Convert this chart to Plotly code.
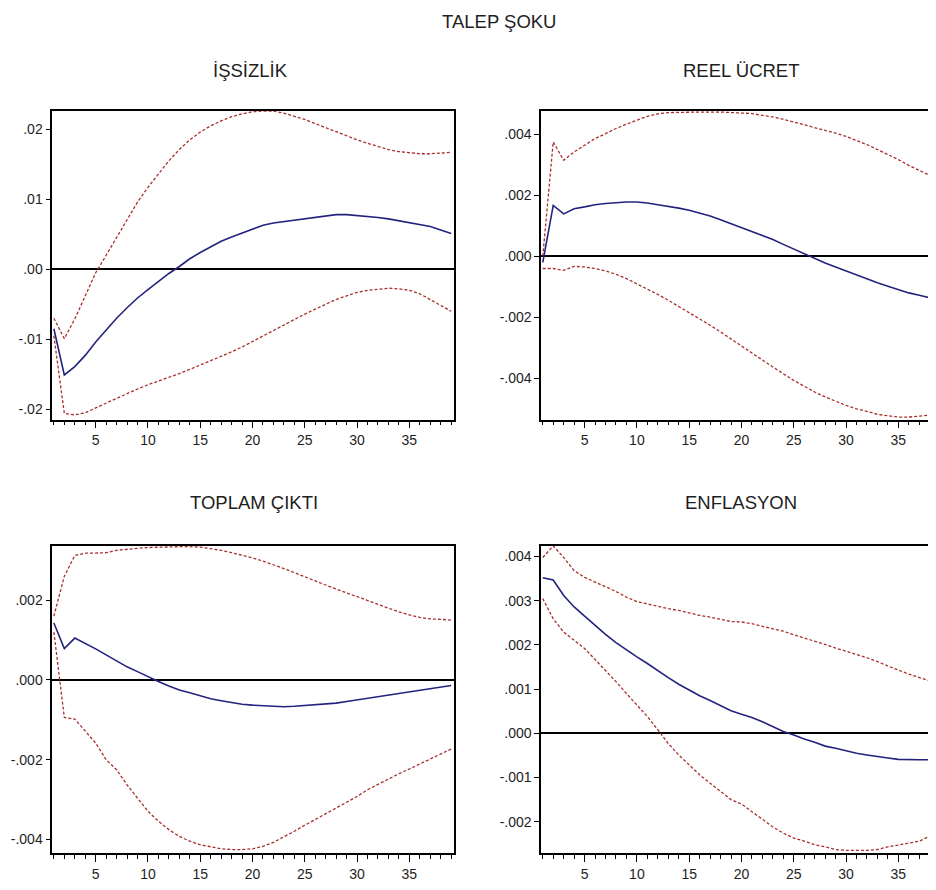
import plotly.graph_objects as go

# ---------------- data ----------------
periods = list(range(1, 40))

issizlik = [-0.0085, -0.0151, -0.0139, -0.0123, -0.0104, -0.0087, -0.0070, -0.0055, -0.0041, -0.0029,
            -0.0017, -0.0006, 0.0004, 0.0015, 0.0024, 0.0032, 0.0040, 0.0046, 0.0052, 0.0058,
            0.0063, 0.0066, 0.0068, 0.0070, 0.0073, 0.0075, 0.0077, 0.0078, 0.0078, 0.0077,
            0.0076, 0.0074, 0.0072, 0.0069, 0.0067, 0.0064, 0.0061, 0.0056, 0.0051]
issizlik_up = [-0.0070, -0.0099, -0.0071, -0.0037, -0.0005, 0.0020, 0.0046, 0.0072, 0.0096, 0.0117,
               0.0136, 0.0155, 0.0171, 0.0185, 0.0196, 0.0205, 0.0212, 0.0218, 0.0222, 0.0225,
               0.0226, 0.0226, 0.0223, 0.0219, 0.0214, 0.0208, 0.0202, 0.0196, 0.0190, 0.0185,
               0.0180, 0.0175, 0.0171, 0.0168, 0.0166, 0.0165, 0.0165, 0.0166, 0.0167]
issizlik_lo = [-0.0095, -0.0206, -0.0208, -0.0205, -0.0198, -0.0191, -0.0184, -0.0177, -0.0171, -0.0165,
               -0.0160, -0.0154, -0.0149, -0.0143, -0.0137, -0.0130, -0.0124, -0.0118, -0.0111, -0.0103,
               -0.0095, -0.0088, -0.0080, -0.0072, -0.0064, -0.0057, -0.0050, -0.0043, -0.0038, -0.0033,
               -0.0030, -0.0028, -0.0027, -0.0028, -0.0030, -0.0035, -0.0043, -0.0052, -0.0060]

reel_ucret = [-0.00020, 0.00167, 0.00139, 0.00156, 0.00162, 0.00169, 0.00173, 0.00176, 0.00178, 0.00178,
              0.00175, 0.00169, 0.00164, 0.00158, 0.00151, 0.00142, 0.00132, 0.00120, 0.00107, 0.00094,
              0.00082, 0.00069, 0.00055, 0.00039, 0.00024, 0.00009, -0.00008, -0.00022, -0.00035, -0.00048,
              -0.00062, -0.00075, -0.00087, -0.00098, -0.00109, -0.00120, -0.00128, -0.00136, -0.00144]
reel_ucret_up = [0.00000, 0.00375, 0.00315, 0.00342, 0.00364, 0.00386, 0.00402, 0.00419, 0.00433, 0.00446,
                 0.00459, 0.00467, 0.00471, 0.00472, 0.00473, 0.00473, 0.00473, 0.00473, 0.00472, 0.00471,
                 0.00468, 0.00462, 0.00457, 0.00449, 0.00440, 0.00432, 0.00422, 0.00413, 0.00404, 0.00393,
                 0.00380, 0.00366, 0.00350, 0.00334, 0.00317, 0.00298, 0.00282, 0.00266, 0.00249]
reel_ucret_lo = [-0.00040, -0.00040, -0.00046, -0.00033, -0.00035, -0.00040, -0.00048, -0.00059, -0.00073, -0.00090,
                 -0.00106, -0.00125, -0.00144, -0.00164, -0.00184, -0.00204, -0.00226, -0.00248, -0.00270, -0.00294,
                 -0.00317, -0.00341, -0.00363, -0.00385, -0.00407, -0.00426, -0.00445, -0.00461, -0.00476, -0.00489,
                 -0.00500, -0.00510, -0.00518, -0.00523, -0.00527, -0.00527, -0.00525, -0.00521, -0.00516]

toplam_cikti = [0.00143, 0.00079, 0.00105, 0.00092, 0.00078, 0.00063, 0.00048, 0.00033, 0.00021, 0.00008,
                -0.00004, -0.00015, -0.00025, -0.00032, -0.00039, -0.00047, -0.00052, -0.00057, -0.00061, -0.00063,
                -0.00064, -0.00065, -0.00067, -0.00066, -0.00064, -0.00063, -0.00061, -0.00058, -0.00054, -0.00050,
                -0.00047, -0.00043, -0.00038, -0.00034, -0.00030, -0.00026, -0.00022, -0.00018, -0.00014]
toplam_cikti_up = [0.00160, 0.00260, 0.00312, 0.00318, 0.00318, 0.00319, 0.00325, 0.00328, 0.00330, 0.00332,
                   0.00333, 0.00334, 0.00334, 0.00334, 0.00333, 0.00329, 0.00325, 0.00319, 0.00313, 0.00306,
                   0.00298, 0.00289, 0.00279, 0.00269, 0.00258, 0.00248, 0.00238, 0.00228, 0.00218, 0.00208,
                   0.00198, 0.00189, 0.00180, 0.00171, 0.00163, 0.00157, 0.00153, 0.00152, 0.00150]
toplam_cikti_lo = [0.00120, -0.00094, -0.00098, -0.00129, -0.00158, -0.00200, -0.00225, -0.00263, -0.00296, -0.00329,
                   -0.00354, -0.00375, -0.00392, -0.00404, -0.00413, -0.00418, -0.00423, -0.00425, -0.00425, -0.00423,
                   -0.00417, -0.00407, -0.00394, -0.00379, -0.00364, -0.00350, -0.00336, -0.00321, -0.00306, -0.00292,
                   -0.00275, -0.00261, -0.00248, -0.00235, -0.00223, -0.00210, -0.00198, -0.00186, -0.00173]

enflasyon = [0.00352, 0.00347, 0.00312, 0.00286, 0.00265, 0.00244, 0.00224, 0.00205, 0.00188, 0.00173,
             0.00158, 0.00141, 0.00126, 0.00111, 0.00098, 0.00085, 0.00074, 0.00062, 0.00051, 0.00043,
             0.00036, 0.00026, 0.00015, 0.00004, -0.00004, -0.00013, -0.00020, -0.00029, -0.00034, -0.00040,
             -0.00045, -0.00049, -0.00053, -0.00056, -0.00059, -0.00060, -0.00060, -0.00060, -0.00060]
enflasyon_up = [0.00398, 0.00424, 0.00398, 0.00368, 0.00353, 0.00342, 0.00331, 0.00321, 0.00308, 0.00298,
                0.00293, 0.00287, 0.00282, 0.00278, 0.00272, 0.00267, 0.00263, 0.00258, 0.00253, 0.00252,
                0.00248, 0.00242, 0.00237, 0.00231, 0.00223, 0.00216, 0.00208, 0.00201, 0.00193, 0.00186,
                0.00178, 0.00171, 0.00162, 0.00152, 0.00143, 0.00134, 0.00126, 0.00118, 0.00111]
enflasyon_lo = [0.00305, 0.00259, 0.00229, 0.00211, 0.00192, 0.00167, 0.00143, 0.00117, 0.00090, 0.00064,
                0.00038, 0.00008, -0.00023, -0.00049, -0.00071, -0.00094, -0.00113, -0.00132, -0.00150, -0.00160,
                -0.00177, -0.00195, -0.00212, -0.00226, -0.00237, -0.00244, -0.00252, -0.00257, -0.00263, -0.00265,
                -0.00265, -0.00265, -0.00263, -0.00257, -0.00253, -0.00248, -0.00244, -0.00233, -0.00222]

main_title = "TALEP ŞOKU"
panel_titles = ["İŞSİZLİK", "REEL ÜCRET", "TOPLAM ÇIKTI", "ENFLASYON"]

x_tick_vals = [5, 10, 15, 20, 25, 30, 35]
x_tick_text = ["5", "10", "15", "20", "25", "30", "35"]

y1_tick_vals = [0.02, 0.01, 0.0, -0.01, -0.02]
y1_tick_text = [".02", ".01", ".00", "-.01", "-.02"]
y2_tick_vals = [0.004, 0.002, 0.0, -0.002, -0.004]
y2_tick_text = [".004", ".002", ".000", "-.002", "-.004"]
y3_tick_vals = [0.002, 0.0, -0.002, -0.004]
y3_tick_text = [".002", ".000", "-.002", "-.004"]
y4_tick_vals = [0.004, 0.003, 0.002, 0.001, 0.0, -0.001, -0.002]
y4_tick_text = [".004", ".003", ".002", ".001", ".000", "-.001", "-.002"]

# ---------------- styling / layout ----------------
# the page body has an 8px default margin, so the figure is laid out in
# screen pixels shifted by that offset
OFF = 8
W, H = 936 - OFF, 890 - OFF
FONT = "Liberation Sans, Arial, sans-serif"
TXT = "#1e1e1e"
BLUE = "#23237f"
RED = "#a8302c"

def px_x(p):
    return (p - OFF) / W

def px_y(p):
    return 1 - (p - OFF) / H

panels = [
    dict(y=issizlik, up=issizlik_up, lo=issizlik_lo, tv=y1_tick_vals, tt=y1_tick_text,
         yr=[-0.02146, 0.02261], dx=[px_x(52.3), px_x(454)], dy=[px_y(419.5), px_y(111)],
         xr=[0.85, 39.27], right=True, title_xy=(251, 70)),
    dict(y=reel_ucret, up=reel_ucret_up, lo=reel_ucret_lo, tv=y2_tick_vals, tt=y2_tick_text,
         yr=[-0.005351, 0.004764], dx=[px_x(541.2), 1.0], dy=[px_y(419.5), px_y(111)],
         xr=[0.85, 38.60], right=False, title_xy=(741, 70)),
    dict(y=toplam_cikti, up=toplam_cikti_up, lo=toplam_cikti_lo, tv=y3_tick_vals, tt=y3_tick_text,
         yr=[-0.004336, 0.003358], dx=[px_x(52.3), px_x(454)], dy=[px_y(853), px_y(546)],
         xr=[0.85, 39.27], right=True, title_xy=(254, 502)),
    dict(y=enflasyon, up=enflasyon_up, lo=enflasyon_lo, tv=y4_tick_vals, tt=y4_tick_text,
         yr=[-0.002709, 0.004239], dx=[px_x(541.2), 1.0], dy=[px_y(853), px_y(546)],
         xr=[0.85, 38.60], right=False, title_xy=(741, 502)),
]

fig = go.Figure()
layout = dict(
    width=W, height=H,
    margin=dict(l=0, r=0, t=0, b=0),
    paper_bgcolor="white", plot_bgcolor="white",
    showlegend=False,
    font=dict(family=FONT, color=TXT, size=14),
)
annotations = []

for i, p in enumerate(panels, start=1):
    xa = "x" if i == 1 else f"x{i}"
    ya = "y" if i == 1 else f"y{i}"
    for series, color, dash, wdt in [(p["up"], RED, "3px,2px", 1.3),
                                     (p["lo"], RED, "3px,2px", 1.3),
                                     (p["y"], BLUE, "solid", 1.6)]:
        fig.add_trace(go.Scatter(x=periods, y=series, mode="lines", xaxis=xa, yaxis=ya,
                                 line=dict(color=color, width=wdt, dash=dash),
                                 hoverinfo="skip"))
    xkey = "xaxis" if i == 1 else f"xaxis{i}"
    ykey = "yaxis" if i == 1 else f"yaxis{i}"
    layout[xkey] = dict(
        domain=p["dx"], range=p["xr"], anchor=ya,
        showgrid=False, zeroline=False,
        showline=True, linecolor="black", linewidth=1.6, mirror=True,
        tickmode="array", tickvals=x_tick_vals, ticktext=x_tick_text,
        ticks="outside", ticklen=7, tickwidth=1.3, tickcolor="black",
        tickfont=dict(family=FONT, size=14, color=TXT),
        minor=dict(tickmode="array", tickvals=periods, ticks="outside",
                   ticklen=4, tickwidth=1.1, tickcolor="black", showgrid=False),
    )
    layout[ykey] = dict(
        domain=p["dy"], range=p["yr"], anchor=xa,
        showgrid=False,
        zeroline=True, zerolinecolor="black", zerolinewidth=1.8,
        showline=True, linecolor="black", linewidth=1.6, mirror=p["right"],
        tickmode="array", tickvals=p["tv"], ticktext=p["tt"],
        ticks="outside", ticklen=5, tickwidth=1.3, tickcolor="black",
        tickfont=dict(family=FONT, size=14, color=TXT),
    )
    tx, ty = p["title_xy"]
    annotations.append(dict(text=panel_titles[i - 1], x=px_x(tx), y=px_y(ty),
                            xref="paper", yref="paper", showarrow=False,
                            xanchor="center", yanchor="middle",
                            font=dict(family=FONT, size=18.5, color=TXT)))

annotations.append(dict(text=main_title, x=px_x(499), y=px_y(22),
                        xref="paper", yref="paper", showarrow=False,
                        xanchor="center", yanchor="middle",
                        font=dict(family=FONT, size=18.5, color=TXT)))
layout["annotations"] = annotations
fig.update_layout(**layout)

fig.write_html("out.html")
